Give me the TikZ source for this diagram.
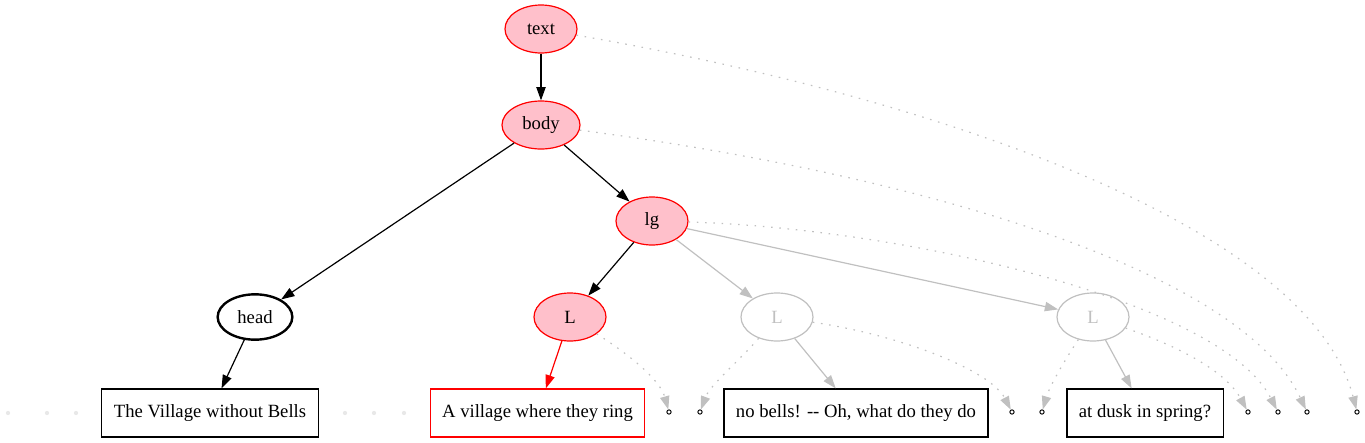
\documentclass[tikz,border=0pt]{standalone}
\usepackage{fontspec}
\setmainfont{Liberation Serif}
\usetikzlibrary{arrows.meta,shapes.geometric}
\definecolor{pinkfill}{RGB}{255,192,203}
\definecolor{grayline}{RGB}{192,192,192}
\definecolor{faintdot}{RGB}{232,232,232}
\tikzset{
  every node/.style={font=\fontsize{14pt}{16pt}\selectfont},
  elnode/.style={ellipse,draw,line width=0.9pt,minimum width=54pt,minimum height=36pt,inner sep=0pt},
  rednode/.style={elnode,draw=red,fill=pinkfill},
  graynode/.style={elnode,draw=grayline,text=grayline},
  boxnode/.style={rectangle,draw,line width=0.9pt,minimum height=36pt,inner xsep=9pt},
  endpt/.style={circle,draw,line width=0.7pt,minimum size=3.2pt,inner sep=0pt},
  edge/.style={line width=0.9pt,-{Triangle[length=10pt,width=7pt]}},
  grayedge/.style={edge,grayline},
  dotedge/.style={line width=0.9pt,grayline,dash pattern=on 1.2pt off 5pt,-{Triangle[length=10pt,width=7pt]}}
}
\begin{document}
\begin{tikzpicture}[x=0.75pt,y=0.75pt]
\useasboundingbox (0,0) rectangle (1365,-443);
% =============================================
% - ellipses.
\node[rednode] (text) at (541,-29) {text};
\node[rednode,minimum width=58.5pt] (body) at (541,-125) {body};
\node[rednode] (lg) at (652,-221) {lg};
\node[elnode,line width=1.8pt,minimum width=56pt,minimum height=34pt] (head) at (255,-317) {head};
\node[rednode] (L) at (570,-317) {L};
\node[graynode] (La) at (777,-317) {L};
\node[graynode] (Lb) at (1093,-317) {L};
% - boxes.
\node[boxnode] (village) at (210,-413) {The Village without Bells};
\node[boxnode,draw=red] (ring) at (537.5,-413) {A village where they ring};
\node[boxnode] (nobells) at (856,-413) {no bells! -{}- Oh, what do they do};
\node[boxnode] (dusk) at (1145,-413) {at dusk in spring?};
% - end points.
\node[endpt] (c1) at (669,-412) {};
\node[endpt] (c2) at (700,-412) {};
\node[endpt] (c3) at (1012,-412) {};
\node[endpt] (c4) at (1042,-412) {};
\node[endpt] (c5) at (1248,-412) {};
\node[endpt] (c6) at (1278,-412) {};
\node[endpt] (c7) at (1307,-412) {};
\node[endpt] (c8) at (1357,-412) {};
% - faint points.
\foreach \x in {8,47,76,345,374,404}
  \fill[faintdot] (\x,-413) circle (1.6pt);
% =============================================
% - tree edges.
\draw[edge] (text) -- (body);
\draw[edge] (body) -- (head);
\draw[edge] (body) -- (lg);
\draw[edge] (lg) -- (L);
\draw[grayedge] (lg) -- (La);
\draw[grayedge] (lg) -- (Lb);
\draw[edge] (head) -- (village);
\draw[edge,red] (L) -- (ring);
\draw[grayedge] (La) -- (nobells);
\draw[grayedge] (Lb) -- (dusk);
% - dotted edges.
\draw[dotedge] (text) .. controls (950,-100) and (1310,-230) .. (c8);
\draw[dotedge] (body) .. controls (920,-175) and (1240,-270) .. (c7);
\draw[dotedge] (lg) .. controls (900,-228) and (1220,-300) .. (c6);
\draw[dotedge] (Lb) .. controls (1175,-345) and (1225,-370) .. (c5);
\draw[dotedge] (L) .. controls (630,-355) and (660,-380) .. (c1);
\draw[dotedge] (La) .. controls (740,-360) and (710,-385) .. (c2);
\draw[dotedge] (La) .. controls (900,-335) and (990,-370) .. (c3);
\draw[dotedge] (Lb) .. controls (1065,-360) and (1050,-385) .. (c4);
% =============================================
\end{tikzpicture}
\end{document}
